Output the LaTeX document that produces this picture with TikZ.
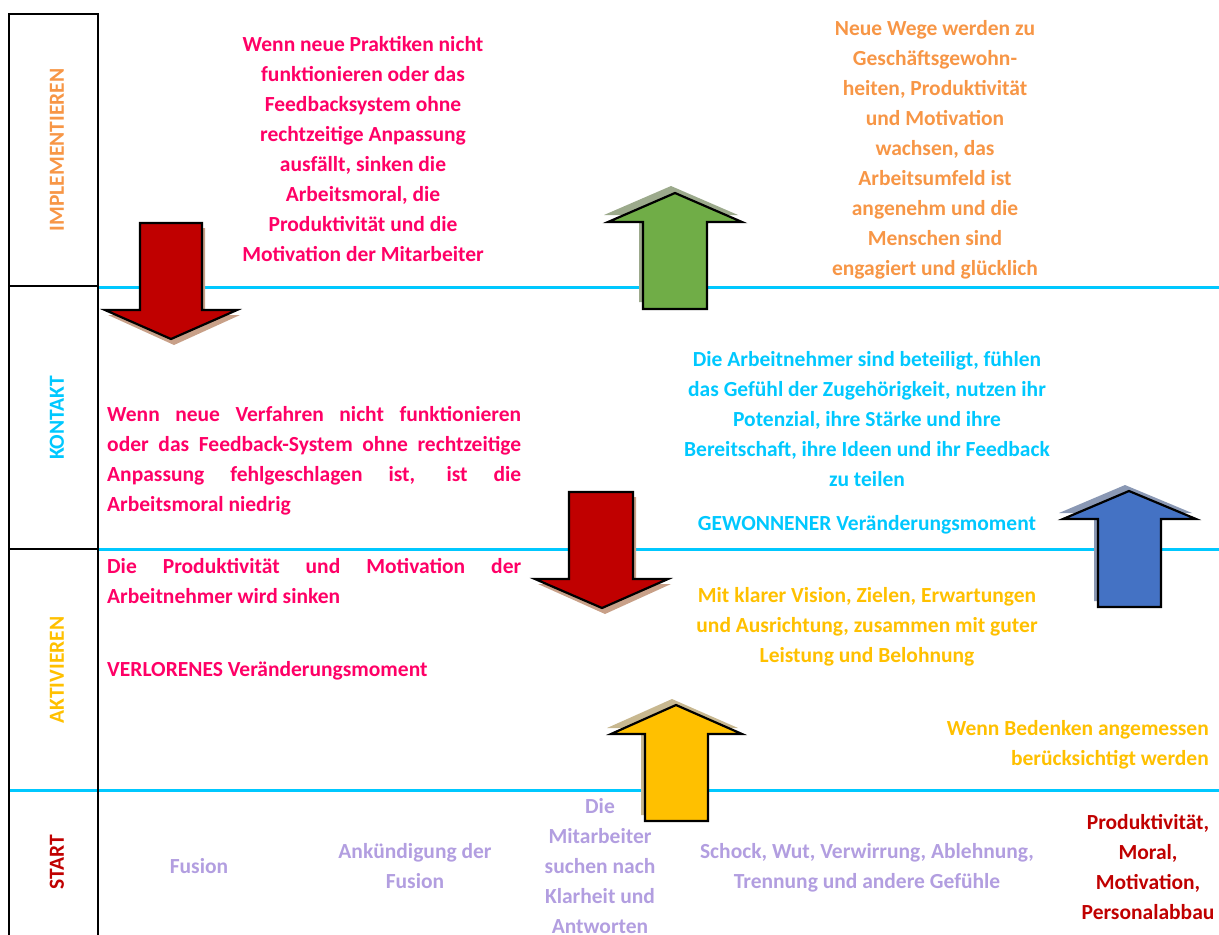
\documentclass[tikz,border=0pt]{standalone}
\usepackage{fontspec}
\setmainfont{Carlito}
\definecolor{mag}{HTML}{FF0066}
\definecolor{org}{HTML}{F79646}
\definecolor{cyn}{HTML}{00C8FF}
\definecolor{ylw}{HTML}{FFC000}
\definecolor{lav}{HTML}{B29EE0}
\definecolor{drd}{HTML}{C00000}
\definecolor{redfill}{HTML}{C00000}
\definecolor{redsh}{HTML}{C8A088}
\definecolor{grnfill}{HTML}{70AD47}
\definecolor{grnsh}{HTML}{9CAA8C}
\definecolor{blufill}{HTML}{4472C4}
\definecolor{blush}{HTML}{8A98B4}
\definecolor{ylwfill}{HTML}{FFC000}
\definecolor{ylwsh}{HTML}{C8B890}
\tikzset{
  txt/.style={font=\fontsize{21.5}{30}\selectfont\bfseries, inner sep=0pt},
  jtxt/.style={txt, text width=414pt, align=justify, anchor=base west,
    execute at begin node={\hyphenpenalty=10000\exhyphenpenalty=10000}},
  lbl/.style={font=\fontsize{21.5}{30}\selectfont\bfseries, inner sep=0pt, rotate=90},
  sep/.style={cyn, line width=3pt},
  frame/.style={black, line width=2pt},
  arr/.style={draw=black, line width=2.2pt, line join=miter},
}
\begin{document}
\begin{tikzpicture}[x=1pt,y=-1pt]
\useasboundingbox (0,0) rectangle (1219,935);
% separators
\draw[sep] (98,287) -- (1219,287);
\draw[sep] (98,549) -- (1219,549);
\draw[sep] (9,790) -- (1219,790);
% left frame
\draw[frame] (9,935) -- (9,14) -- (98,14) -- (98,935);
\draw[frame] (9,286) -- (98,286);
\draw[frame] (9,549) -- (98,549);
% labels
\node[lbl, text=org] (limp) at (57,150) {IMPLEMENTIEREN};
\node[lbl, text=cyn] (lkon) at (57,418) {KONTAKT};
\node[lbl, text=ylw] (lakt) at (57,670) {AKTIVIEREN};
\node[lbl, text=drd] (lsta) at (57,862) {START};
% red arrow 1
\fill[redsh] (143,228) -- (205,228) -- (205,315) -- (240,315) -- (174,345) -- (108,315) -- (143,315) -- cycle;
\draw[arr, fill=redfill] (140,223) -- (202,223) -- (202,310) -- (237,310) -- (171,339) -- (105,310) -- (140,310) -- cycle;
% red arrow 2
\fill[redsh] (572,497) -- (636,497) -- (636,584) -- (671,584) -- (605,614) -- (538,584) -- (572,584) -- cycle;
\draw[arr, fill=redfill] (569,492) -- (633,492) -- (633,579) -- (668,579) -- (602,608) -- (535,579) -- (569,579) -- cycle;
% green arrow
\fill[grnsh] (639,302) -- (703,302) -- (703,215) -- (738,215) -- (671,186) -- (604,215) -- (639,215) -- cycle;
\draw[arr, fill=grnfill] (643,309) -- (707,309) -- (707,222) -- (742,222) -- (675,193) -- (608,222) -- (643,222) -- cycle;
% blue arrow
\fill[blush] (1094,601) -- (1157,601) -- (1157,513) -- (1192,513) -- (1125,485) -- (1059,513) -- (1094,513) -- cycle;
\draw[arr, fill=blufill] (1098,607) -- (1161,607) -- (1161,519) -- (1196,519) -- (1129,491) -- (1063,519) -- (1098,519) -- cycle;
% yellow arrow
\fill[ylwsh] (641,815) -- (704,815) -- (704,728) -- (738,728) -- (672,699) -- (607,728) -- (641,728) -- cycle;
\draw[arr, fill=ylwfill] (645,821) -- (708,821) -- (708,734) -- (742,734) -- (676,705) -- (611,734) -- (645,734) -- cycle;
% texts
\node[txt, text=mag, align=center, anchor=base] (t1) at (363,261) {Wenn neue Praktiken nicht\\funktionieren oder das\\Feedbacksystem ohne\\rechtzeitige Anpassung\\ausfällt, sinken die\\Arbeitsmoral, die\\Produktivität und die\\Motivation der Mitarbeiter};
\node[txt, text=org, align=center, anchor=base] (t2) at (935,275) {Neue Wege werden zu\\Geschäftsgewohn-\\heiten, Produktivität\\und Motivation\\wachsen, das\\Arbeitsumfeld ist\\angenehm und die\\Menschen sind\\engagiert und glücklich};
\node[jtxt, text=mag] (t3) at (107,421) {Wenn neue Verfahren nicht funktionieren\linebreak oder das Feedback-System ohne rechtzeitige\linebreak Anpassung fehlgeschlagen ist, ist die\linebreak Arbeitsmoral niedrig};
\node[txt, text=cyn, align=center, anchor=base] (t4) at (867,486) {Die Arbeitnehmer sind beteiligt, fühlen\\das Gefühl der Zugehörigkeit, nutzen ihr\\Potenzial, ihre Stärke und ihre\\Bereitschaft, ihre Ideen und ihr Feedback\\zu teilen};
\node[txt, text=cyn, anchor=base] (t5) at (867,530) {GEWONNENER Veränderungsmoment};
\node[jtxt, text=mag] (t6) at (107,573) {Die Produktivität und Motivation der\linebreak Arbeitnehmer wird sinken};
\node[txt, text=mag, anchor=base west] (t7) at (107,676) {VERLORENES Veränderungsmoment};
\node[txt, text=ylw, align=center, anchor=base] (t8) at (867,662) {Mit klarer Vision, Zielen, Erwartungen\\und Ausrichtung, zusammen mit guter\\Leistung und Belohnung};
\node[txt, text=ylw, align=right, anchor=base east] (t9) at (1209,765) {Wenn Bedenken angemessen\\berücksichtigt werden};
\node[txt, text=lav, anchor=base] (s1) at (199,873) {Fusion};
\node[txt, text=lav, align=center, anchor=base] (s2) at (415,888) {Ankündigung der\\Fusion};
\node[txt, text=lav, align=center, anchor=base] (s3) at (600,933) {Die\\Mitarbeiter\\suchen nach\\Klarheit und\\Antworten};
\node[txt, text=lav, align=center, anchor=base] (s4) at (867,888) {Schock, Wut, Verwirrung, Ablehnung,\\Trennung und andere Gefühle};
\node[txt, text=drd, align=center, anchor=base] (s5) at (1148,919) {Produktivität,\\Moral,\\Motivation,\\Personalabbau};
\end{tikzpicture}
\end{document}
